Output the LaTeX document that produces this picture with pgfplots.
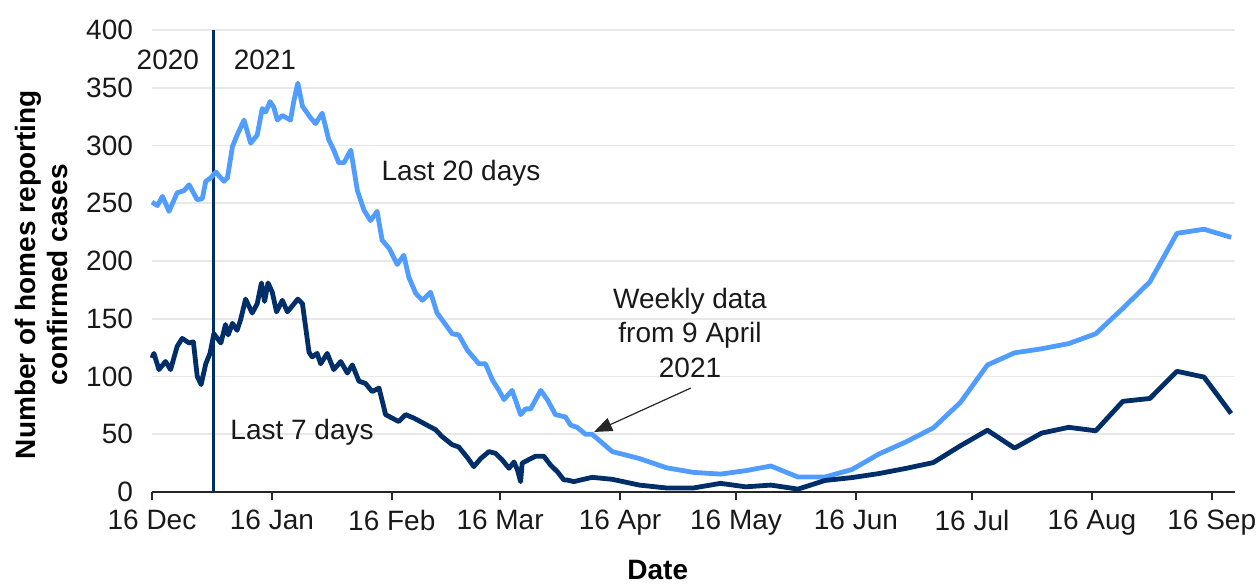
\documentclass[border=0pt]{standalone}
\usepackage{fontspec}
\setmainfont{Liberation Sans}
\usepackage{pgfplots}
\pgfplotsset{compat=1.18}
\usetikzlibrary{arrows.meta}
\definecolor{lightb}{RGB}{80,157,255}
\definecolor{darkb}{RGB}{0,46,104}
\begin{document}
\begin{tikzpicture}
\begin{axis}[
  scale only axis, width=541.5pt, height=231pt,
  xmin=0, xmax=280, ymin=0, ymax=400,
  axis x line*=bottom, axis y line*=left,
  x axis line style={-, black!85, line width=1pt},
  y axis line style={draw=none},
  xtick={0,31,62,90,121,151,182,212,243,274},
  xticklabels={16 Dec,16 Jan,16 Feb,16 Mar,16 Apr,16 May,16 Jun,16 Jul,16 Aug,16 Sep},
  xtick align=outside,
  major tick length=4pt,
  xtick style={black!85, line width=1pt},
  xticklabel style={yshift=-1.5pt},
  ytick={0,50,...,400},
  ytick style={draw=none},
  yticklabel style={xshift=-6pt},
  ymajorgrids, grid style={black!9, line width=0.8pt},
  tick label style={font=\fontsize{14}{16}\selectfont, text=black!90},
  /pgf/number format/assume math mode=true,
  xlabel={Date},
  xlabel style={at={(axis description cs:0.467,-0.168)}, anchor=center, font=\bfseries\fontsize{14}{16}\selectfont},
  ylabel={Number of homes reporting\\confirmed cases},
  ylabel style={at={(axis description cs:-0.1025,0.47)}, anchor=center, align=center, font=\bfseries\fontsize{14}{16}\selectfont},
  clip=false,
]
\addplot[darkb, line width=1.5pt] coordinates {(16,0) (16,400)};
\addplot[lightb, line width=2.4pt, line join=round] coordinates {
(0,251) (1.4,248) (2.7,256) (4.4,243) (6.5,259) (8.3,261) (9.6,266) (11.7,253) (13,254) (13.9,269)
(15.2,272) (16.5,277) (18.6,269) (19.5,272) (20.8,299) (22,309) (23.8,322) (25.5,302) (27.2,309) (28.5,332)
(29.4,329) (30.5,338) (31.5,333) (32.4,322) (33.7,326) (35.8,322) (36.7,339) (37.7,354) (38.9,334) (41,324)
(42.3,319) (44,328) (45.7,305) (47,296) (48.3,285) (49.6,285) (51.4,296) (53.1,261) (54.8,244) (56.5,235)
(58.2,243) (59.5,218) (61.3,211) (63.4,197) (65.1,205) (66.4,186) (68.2,172) (69.9,166) (72,173) (73.7,155)
(75.9,145) (77.6,137) (79.3,136) (81.5,123) (84.5,111) (86.2,111) (88,97) (89.7,88) (91,80) (93.1,88)
(95.3,67) (96.6,72) (97.9,72) (100.5,88) (102.2,80) (104.3,67) (106.9,65) (108.2,58) (109.9,56) (112.1,50)
(113.8,50)
(119,35) (126,29) (133,21) (140,17) (147,15.5) (153.5,18.5) (160,22.5) (167,13) (174,13) (181,19.5)
(188,33) (195,43.5) (202,55.5) (209,77.5) (216,110) (223,120.5) (230,124) (237,128.5) (244,137) (251,159)
(258,182) (265,224) (272,227.5) (279,220.5)
};
\addplot[darkb, line width=2.4pt, line join=round] coordinates {
(0,116) (0.5,120) (1.8,106) (3.5,113) (4.8,106) (6.5,126) (7.8,133) (9.6,129) (10.7,130) (11.7,100)
(12.7,93) (13.9,111) (15,120) (16,137) (17.8,129) (19,145) (19.7,136) (20.8,146) (22,140) (22.9,149)
(24.2,167) (25.9,155) (27.2,163) (28.3,181) (29.1,165) (30,181) (31.1,173) (32.2,156) (33.7,166) (35,156)
(36,160) (37.7,167) (38.9,163) (40.6,121) (41.4,117) (42.7,120) (43.6,111) (45.3,120) (47,106) (48.8,113)
(50.5,103) (51.8,110) (53.5,96) (55.2,94) (56.9,87) (58.7,90) (60.4,67) (62.1,64) (63.8,61) (65.6,67)
(67.7,64) (69.4,61) (71.6,57) (73.3,54) (75,48) (77.6,41) (79.3,39) (81.5,30) (83.2,22) (85,29)
(87.1,35) (88.8,33.5) (90.5,28) (92.3,20.5) (93.6,26) (94.5,19) (95.3,9) (95.7,25) (97.4,28) (99.2,31)
(101.3,31) (103,23.5) (104.8,17.6) (106.5,10.4) (107.3,10.4) (109.1,9) (110.8,10.4) (113.8,12.7)
(119,11) (126,6) (133,3.5) (140,3.5) (147,7.5) (153.5,4.5) (160,6) (167,2.5) (174,10) (181,12.5)
(188,16) (195,20.5) (202,25.5) (209,40) (216,53.5) (223,38) (230,51) (237,56) (244,53) (251,78.5)
(258,81) (265,104.5) (272,99.5) (279,68)
};
\node[font=\fontsize{14}{16}\selectfont, text=black!90] at (axis cs:4.1,374) {2020};
\node[font=\fontsize{14}{16}\selectfont, text=black!90] at (axis cs:29.2,374) {2021};
\node[font=\fontsize{14}{16}\selectfont, text=black!90] at (axis cs:79.9,276) {Last 20 days};
\node[font=\fontsize{14}{16}\selectfont, text=black!90] at (axis cs:38.8,52) {Last 7 days};
\node[font=\fontsize{14}{17.25}\selectfont, text=black!90, align=center] at (axis cs:139.1,137.7) {Weekly data\\from 9 April\\2021};
\draw[-{Triangle[length=9pt,width=7pt]}, line width=0.6pt, black!85] (axis cs:139.3,90) -- (axis cs:114.3,52);
\coordinate (sw) at (rel axis cs:0,0);
\end{axis}
\pgfresetboundingbox
\path (sw) ++(-76pt,-47pt) rectangle ++(629pt,293pt);
\end{tikzpicture}
\end{document}
